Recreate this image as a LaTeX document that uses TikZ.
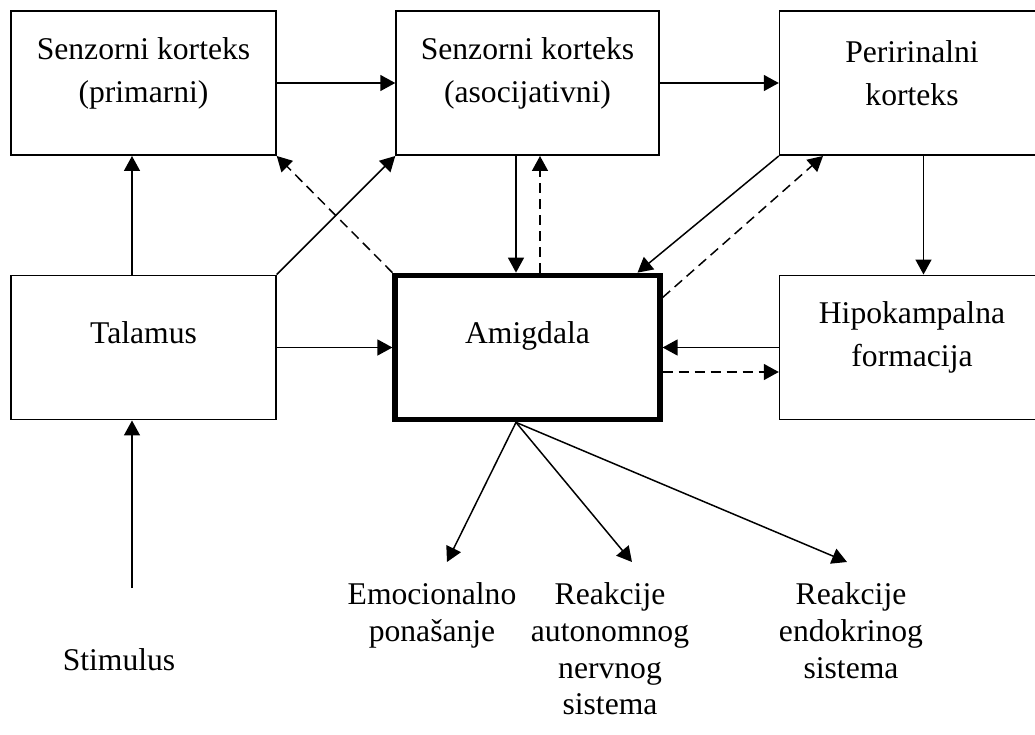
\documentclass[tikz,border=0pt]{standalone}
\usepackage{fontspec}
\setmainfont{Liberation Serif}
\usetikzlibrary{arrows.meta,positioning}
\begin{document}
\begin{tikzpicture}[x=0.02cm,y=-0.02cm,font=\fontsize{18}{24.5}\selectfont,
  blok/.style={draw,line width=0.85pt,minimum width=5.3cm,minimum height=2.89cm,inner sep=0pt},
  natpis/.style={align=center,yshift=0.2cm},
  izlaz/.style={align=center,anchor=north,inner xsep=0pt,inner ysep=0.4cm,font=\fontsize{18}{21}\selectfont},
  veza/.style={line width=0.85pt,-{Triangle[length=0.3cm,width=0.32cm]}},
  isprek/.style={veza,dash pattern=on 0.2cm off 0.12cm}]
\def\pom{0.23cm}%pomak okomitih strelica
\def\pomb{0.25cm}%pomak isprekidane strelice

\useasboundingbox (0,0) rectangle (1035,734);
\clip (0,0) rectangle (1035,734);

%Blokovi gore
\node[blok,label={[natpis]center:Senzorni korteks\\(primarni)}] (prim) at (143.5,83) {};
\node[blok,minimum width=5.26cm,label={[natpis]center:Senzorni korteks\\(asocijativni)}] (asoc) at (527.5,83) {};
\node[blok,label={[natpis]center:Peririnalni\\korteks}] (peri) at (912,83) {};

%Blokovi dolje
\node[blok,label={[natpis,yshift=0.1cm]center:Talamus}] (tal) at (143.5,347.5) {};
\node[blok,line width=3pt,label={[natpis,yshift=0.04cm]center:Amigdala}] (amig) at (527.5,347.5) {};
\node[blok,label={[natpis]center:Hipokampalna\\formacija}] (hip) at (912,347.5) {};

%Ulaz i izlazi
\node (stim) at (119,660) {Stimulus};
\coordinate (stimvrh) at (132,588);
\node[izlaz] (emo) at (432,562) {Emocionalno\\ponašanje};
\node[izlaz] (auto) at (610,562) {Reakcije\\autonomnog\\nervnog\\sistema};
\node[izlaz] (endo) at (851,562) {Reakcije\\endokrinog\\sistema};

%Veze
\draw[veza] (prim) -- (asoc);
\draw[veza] (asoc) -- (peri);
\draw[veza] (stimvrh) -- (stimvrh |- tal.south);
\draw[veza] ([xshift=-\pom]tal.north) -- ([xshift=-\pom]prim.south);
\draw[veza] (tal.north east) -- (asoc.south west);
\draw[isprek] (amig.north west) -- (prim.south east);
\draw[veza] ([xshift=-\pom]asoc.south) -- ([xshift=-\pom]amig.north);
\draw[isprek] ([xshift=\pomb]amig.north) -- ([xshift=\pomb]asoc.south);
\draw[veza] (peri.south west) -- ([xshift=2.2cm]amig.north);
\draw[isprek] ([yshift=1cm]amig.east) -- ([xshift=-1.78cm]peri.south);
\draw[veza] ([xshift=\pom]peri.south) -- ([xshift=\pom]hip.north);
\draw[veza] (tal) -- (amig);
\draw[veza] (hip) -- (amig);
\draw[isprek] ([yshift=-0.49cm]amig.east) -- ([yshift=-0.49cm]hip.west);
\draw[veza] ([xshift=-\pom]amig.south) -- ([xshift=0.3cm]emo.north);
\draw[veza] ([xshift=-\pom]amig.south) -- ([xshift=0.44cm]auto.north);
\draw[veza] ([xshift=-\pom]amig.south) -- ([xshift=-0.08cm]endo.north);
\end{tikzpicture}
\end{document}
